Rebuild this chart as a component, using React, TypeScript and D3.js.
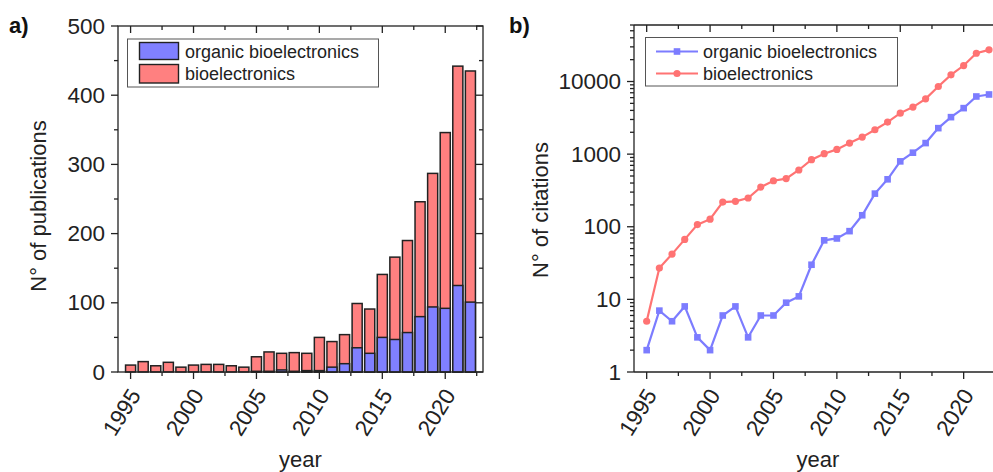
import React from "react";
import * as d3 from "d3";

const years = d3.range(1995, 2023);
const pubBio = [10, 15, 9, 14, 7, 10, 11, 11, 9, 7, 22, 29, 27, 28, 27, 50, 44, 54, 99, 91, 141, 166, 190, 246, 287, 346, 442, 435];
const pubOrg = [0, 0, 0, 0, 0, 0, 0, 0, 0, 0, 1, 1, 3, 1, 2, 2, 7, 12, 35, 27, 50, 47, 57, 80, 94, 92, 125, 101];
const citBio = [5, 27, 42, 67, 107, 127, 219, 224, 249, 352, 430, 460, 605, 840, 1014, 1162, 1419, 1717, 2168, 2760, 3670, 4440, 5780, 8540, 12360, 16600, 24500, 27300];
const citOrg = [2, 7, 5, 8, 3, 2, 6, 8, 3, 6, 6, 9, 11, 30, 65, 69, 87, 144, 286, 450, 795, 1047, 1420, 2280, 3230, 4300, 6220, 6630];
const xMajor = [1995, 2000, 2005, 2010, 2015, 2020];
const xMinor = [1997.5, 2002.5, 2007.5, 2012.5, 2017.5, 2022.5];
const yMajorA = [0, 100, 200, 300, 400, 500];
const yMinorA = [50, 150, 250, 350, 450];
const yMajorB = [1, 10, 100, 1000, 10000];
const seriesNames = ["organic bioelectronics", "bioelectronics"];

const BLUE = "#8080ff";
const RED = "#ff8080";
const LBLUE = "#7c7cff";
const LRED = "#ff7373";
const FONT = "'Liberation Sans', Arial, sans-serif";

export default function App() {
  const xA = d3.scaleLinear().domain([1994, 2023]).range([118, 483]);
  const yA = d3.scaleLinear().domain([0, 500]).range([372, 26]);
  const xB = d3.scaleLinear().domain([1994, 2023]).range([634, 1001.7]);
  const yB = d3.scaleLog().domain([1, 60000]).range([372, 25]);
  const yMinorB: number[] = [];
  for (let d = 1; d <= 10000; d *= 10) for (let k = 2; k <= 9; k++) if (d * k <= 60000) yMinorB.push(d * k);

  const bw = 12.586 * 0.8;
  const lineB = (vals: number[]) =>
    d3.line<number>().x((_, i) => xB(years[i])).y((v) => yB(v))(vals) || "";

  const ax = { stroke: "#222", strokeWidth: 1.3, fill: "none" };
  const tickLabelSize = 22.5;

  const xTickLabels = (sx: (v: number) => number) =>
    xMajor.map((t) => (
      <text key={"xl" + t} transform={`translate(${sx(t) + 6},${392}) rotate(-58)`} textAnchor="end" dominantBaseline="middle"
        fontSize={tickLabelSize} fontFamily={FONT} fill="#222">{t}</text>
    ));

  const xTicks = (sx: (v: number) => number, top: number, bottom: number) => (
    <g>
      {xMajor.map((t) => (
        <g key={"xt" + t}>
          <line x1={sx(t)} x2={sx(t)} y1={bottom} y2={bottom + 7} {...ax} />
          <line x1={sx(t)} x2={sx(t)} y1={top} y2={top + 7} {...ax} />
        </g>
      ))}
      {xMinor.map((t) => (
        <g key={"xm" + t}>
          <line x1={sx(t)} x2={sx(t)} y1={bottom} y2={bottom + 4} {...ax} />
          <line x1={sx(t)} x2={sx(t)} y1={top} y2={top + 4} {...ax} />
        </g>
      ))}
    </g>
  );

  return (
    <svg width={993} height={472} style={{ position: "absolute", left: 0, top: 0, background: "#fff" }}>
      <rect x={0} y={0} width={993} height={472} fill="#fff" />
      {/* Panel a */}
      <text x={9} y={33} fontSize={22} fontWeight="bold" fontFamily={FONT} fill="#111">a)</text>
      {years.map((y, i) => (
        <rect key={"rb" + y} x={xA(y) - bw / 2} y={yA(pubBio[i])} width={bw} height={yA(0) - yA(pubBio[i])}
          fill={RED} stroke="#222" strokeWidth={1.5} />
      ))}
      {years.map((y, i) =>
        pubOrg[i] > 0 ? (
          <rect key={"bb" + y} x={xA(y) - bw / 2} y={yA(pubOrg[i])} width={bw} height={yA(0) - yA(pubOrg[i])}
            fill={BLUE} stroke="#222" strokeWidth={1.5} />
        ) : null
      )}
      <rect x={118} y={26} width={365} height={346} {...ax} />
      {xTicks(xA, 26, 372)}
      {yMajorA.map((t) => (
        <g key={"ya" + t}>
          <line x1={111} x2={118} y1={yA(t)} y2={yA(t)} {...ax} />
          <line x1={476} x2={483} y1={yA(t)} y2={yA(t)} {...ax} />
          <text x={105} y={yA(t)} textAnchor="end" dominantBaseline="central" fontSize={tickLabelSize} fontFamily={FONT} fill="#222">{t}</text>
        </g>
      ))}
      {yMinorA.map((t) => (
        <g key={"yam" + t}>
          <line x1={114} x2={118} y1={yA(t)} y2={yA(t)} {...ax} />
          <line x1={479} x2={483} y1={yA(t)} y2={yA(t)} {...ax} />
        </g>
      ))}
      {xTickLabels(xA)}
      <text x={xA(2008.5)} y={467} textAnchor="middle" fontSize={22} fontFamily={FONT} fill="#222">year</text>
      <text transform={`translate(46,${206}) rotate(-90)`} textAnchor="middle" fontSize={22} fontFamily={FONT} fill="#222">N° of publications</text>
      {/* legend a */}
      <rect x={127.5} y={39} width={251} height={48} fill="#fff" stroke="#555" strokeWidth={1} />
      <rect x={139.5} y={42.5} width={39} height={17} fill={BLUE} stroke="#222" strokeWidth={1.4} />
      <rect x={139.5} y={64.5} width={39} height={18.5} fill={RED} stroke="#222" strokeWidth={1.4} />
      <text x={185} y={52} dominantBaseline="central" fontSize={18} fontFamily={FONT} fill="#222">{seriesNames[0]}</text>
      <text x={185} y={74} dominantBaseline="central" fontSize={18} fontFamily={FONT} fill="#222">{seriesNames[1]}</text>

      {/* Panel b */}
      <text x={509} y={33} fontSize={22} fontWeight="bold" fontFamily={FONT} fill="#111">b)</text>
      <line x1={634} x2={1010} y1={25} y2={25} {...ax} />
      <line x1={634} x2={1010} y1={372} y2={372} {...ax} />
      <line x1={634} x2={634} y1={25} y2={372} {...ax} />
      {xTicks(xB, 25, 372)}
      {yMajorB.map((t) => (
        <g key={"yb" + t}>
          <line x1={627} x2={634} y1={yB(t)} y2={yB(t)} {...ax} />
          <text x={621} y={yB(t)} textAnchor="end" dominantBaseline="central" fontSize={tickLabelSize} fontFamily={FONT} fill="#222">{t}</text>
        </g>
      ))}
      {yMinorB.map((t) => (
        <line key={"ybm" + t} x1={630} x2={634} y1={yB(t)} y2={yB(t)} {...ax} />
      ))}
      {xTickLabels(xB)}
      <text x={xB(2008.5)} y={467} textAnchor="middle" fontSize={22} fontFamily={FONT} fill="#222">year</text>
      <text transform={`translate(548,${210}) rotate(-90)`} textAnchor="middle" fontSize={22} fontFamily={FONT} fill="#222">N° of citations</text>

      <path d={lineB(citBio)} fill="none" stroke={LRED} strokeWidth={2.2} />
      {citBio.map((v, i) => (
        <circle key={"cr" + i} cx={xB(years[i])} cy={yB(v)} r={3.6} fill={LRED} />
      ))}
      <path d={lineB(citOrg)} fill="none" stroke={LBLUE} strokeWidth={2.2} />
      {citOrg.map((v, i) => (
        <rect key={"sq" + i} x={xB(years[i]) - 3.3} y={yB(v) - 3.3} width={6.6} height={6.6} fill={LBLUE} />
      ))}
      {/* legend b */}
      <rect x={645.5} y={37.5} width={252} height={48.5} fill="#fff" stroke="#555" strokeWidth={1} />
      <line x1={656} x2={698} y1={51.5} y2={51.5} stroke={LBLUE} strokeWidth={2.2} />
      <rect x={673.7} y={48.2} width={6.6} height={6.6} fill={LBLUE} />
      <line x1={656} x2={698} y1={73.5} y2={73.5} stroke={LRED} strokeWidth={2.2} />
      <circle cx={677} cy={73.5} r={3.6} fill={LRED} />
      <text x={703} y={51.5} dominantBaseline="central" fontSize={18} fontFamily={FONT} fill="#222">{seriesNames[0]}</text>
      <text x={703} y={73.5} dominantBaseline="central" fontSize={18} fontFamily={FONT} fill="#222">{seriesNames[1]}</text>
    </svg>
  );
}
